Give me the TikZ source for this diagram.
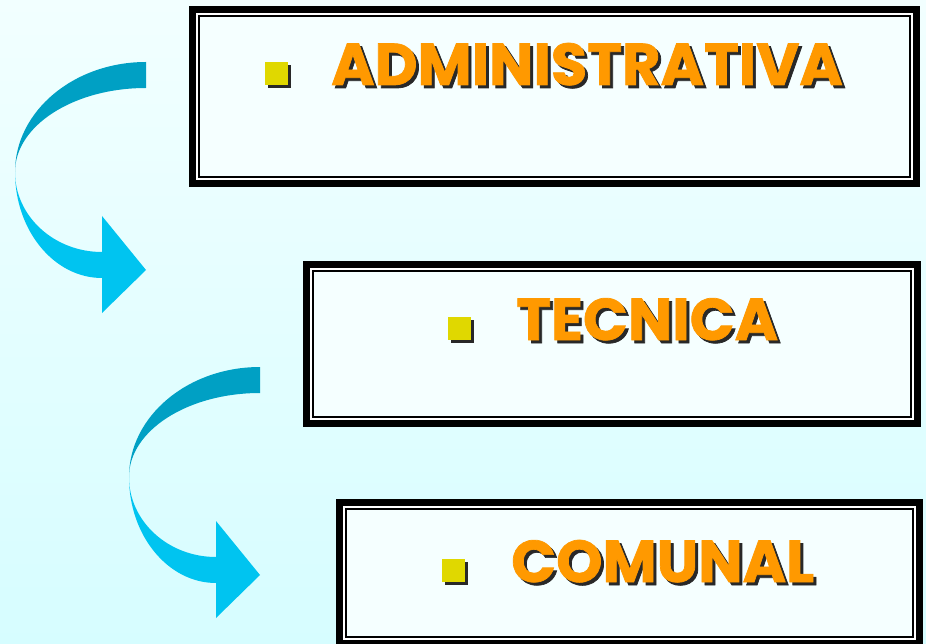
\documentclass[tikz,border=0pt]{standalone}
\usepackage{fontspec}
\newfontfamily\boxfont{Poppins}[BoldFeatures={FakeBold=1.2}]
\usetikzlibrary{positioning}
\definecolor{bgtop}{RGB}{242, 255, 255}
\definecolor{bgbot}{RGB}{214, 253, 255}
\definecolor{boxfill}{RGB}{245, 255, 255}
\definecolor{dorange}{RGB}{255, 153, 0}
\definecolor{dyellow}{RGB}{224, 216, 0}
\definecolor{dshadow}{RGB}{40, 40, 40}
\definecolor{darrow}{RGB}{0, 160, 196}
\definecolor{larrow}{RGB}{0, 196, 240}
\newcommand{\shadowed}[2]{\rlap{\hspace{3pt}\raisebox{-3pt}{\textcolor{dshadow}{#2}}}\textcolor{#1}{#2}}
\newcommand{\sqbullet}{\shadowed{dyellow}{\rule{23pt}{23pt}}}
\tikzstyle{frame} = [rectangle, fill=boxfill, draw=black, line width=2pt, inner sep=0pt,
  anchor=north west,
  preaction={draw=black, line width=20pt},
  preaction={draw=white, line width=6pt}]
\tikzstyle{item} = [anchor=base west, inner sep=0pt,
  font=\boxfont\bfseries\fontsize{59}{62}\selectfont]

\begin{document}
\begin{tikzpicture}[x=1pt, y=-1pt]

  \useasboundingbox (0,0) rectangle (926,644);
  \shade[top color=bgtop, bottom color=bgbot] (0,0) rectangle (926,644);

  %%%%%%%%%%%%%%%%%%%%%%%%%%%%%%%%%%%%%%%%%%%%%%%%%%%%%%%%%%%%%%
  %                    CURVED ARROWS                           %
  %%%%%%%%%%%%%%%%%%%%%%%%%%%%%%%%%%%%%%%%%%%%%%%%%%%%%%%%%%%%%%

  \foreach \dx/\dy in {0/0, 114/305} {
    \begin{scope}[shift={(\dx,\dy)}]
      \fill[darrow] (146,62) .. controls (73.7,62) and (15,111.3) .. (15,172)
        .. controls (15,125.6) and (73.7,88) .. (146,88) -- cycle;
      \fill[larrow] (15,172) .. controls (15,216.2) and (54,252) .. (102,252)
        -- (102,216) -- (146,270) -- (102,313) -- (102,278)
        .. controls (54,278) and (15,230.5) .. (15,172) -- cycle;
    \end{scope}
  }

  %%%%%%%%%%%%%%%%%%%%%%%%%%%%%%%%%%%%%%%%%%%%%%%%%%%%%%%%%%%%%%
  %                    ADMINISTRATIVA                          %
  %%%%%%%%%%%%%%%%%%%%%%%%%%%%%%%%%%%%%%%%%%%%%%%%%%%%%%%%%%%%%%

  \node [frame,
    minimum width=711pt,
    minimum height=161pt] (admin) at (198,15) {};
  \node [item] (admin-text) at (265,85) {\sqbullet\hspace{43pt}\shadowed{dorange}{ADMINISTRATIVA}};

  %%%%%%%%%%%%%%%%%%%%%%%%%%%%%%%%%%%%%%%%%%%%%%%%%%%%%%%%%%%%%%
  %                    TECNICA                                 %
  %%%%%%%%%%%%%%%%%%%%%%%%%%%%%%%%%%%%%%%%%%%%%%%%%%%%%%%%%%%%%%

  \node [frame,
    minimum width=598pt,
    minimum height=146pt] (tecnica) at (312,270) {};
  \node [item] (tecnica-text) at (448,340) {\sqbullet\hspace{45pt}\shadowed{dorange}{TECNICA}};

  %%%%%%%%%%%%%%%%%%%%%%%%%%%%%%%%%%%%%%%%%%%%%%%%%%%%%%%%%%%%%%
  %                    COMUNAL                                 %
  %%%%%%%%%%%%%%%%%%%%%%%%%%%%%%%%%%%%%%%%%%%%%%%%%%%%%%%%%%%%%%

  \node [frame,
    minimum width=567pt,
    minimum height=128pt] (comunal) at (345,508) {};
  \node [item] (comunal-text) at (442,582) {\sqbullet\hspace{46pt}\shadowed{dorange}{COMUNAL}};

\end{tikzpicture}
\end{document}
